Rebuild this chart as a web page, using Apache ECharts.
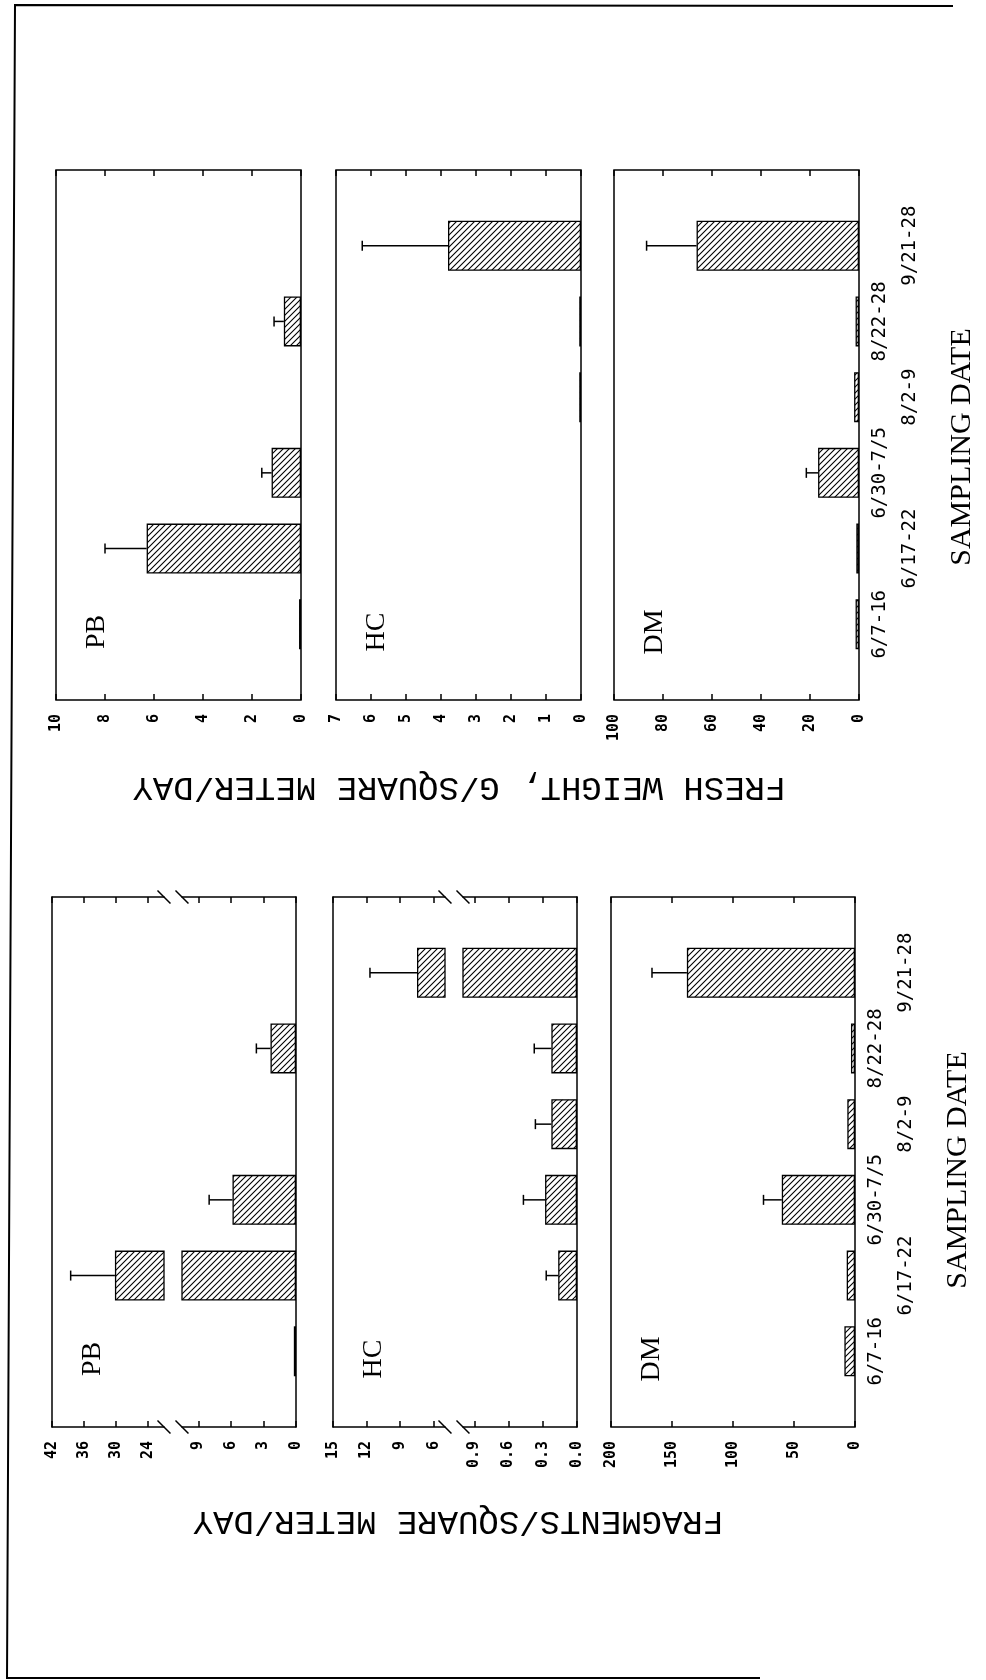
<!DOCTYPE html>
<html><head><meta charset="utf-8">
<script src="https://cdn.jsdelivr.net/npm/echarts@6/dist/echarts.min.js"></script>
<style>html,body{margin:0;padding:0;background:#fff}#c{width:986px;height:1680px}</style>
</head><body><div id="c"></div>
<script>
// ---------- DATA ----------
const categories = ['6/7-16', '6/17-22', '6/30-7/5', '8/2-9', '8/22-28', '9/21-28'];

// Fresh weight, g / square meter / day (mean, and upper error magnitude)
const freshPB    = [0.08, 6.3, 1.2, 0, 0.7, 0];
const freshPBErr = [0, 1.7, 0.4, 0, 0.4, 0];
const freshHC    = [0, 0, 0, 0.05, 0.05, 3.8];
const freshHCErr = [0, 0, 0, 0, 0, 2.45];
const freshDM    = [1.4, 1.1, 16.7, 2.0, 1.4, 66.3];
const freshDMErr = [0, 0, 4.8, 0, 0, 20.4];

// Fragments / square meter / day
const fragPB    = [0.2, 30.2, 5.85, 0, 2.35, 0];
const fragPBErr = [0, 8.3, 2.15, 0, 1.3, 0];
const fragHC    = [0, 0.165, 0.28, 0.225, 0.225, 7.5];
const fragHCErr = [0, 0.105, 0.19, 0.14, 0.15, 4.2];
const fragDM    = [8.7, 6.8, 60, 6.3, 3.3, 137.8];
const fragDMErr = [0, 0, 15, 0, 0, 28.6];

// Tick labels
const freshPBTicks = [0, 2, 4, 6, 8, 10];
const freshHCTicks = [0, 1, 2, 3, 4, 5, 6, 7];
const freshDMTicks = [0, 20, 40, 60, 80, 100];
const fragPBTicksLow  = [0, 3, 6, 9];
const fragPBTicksHigh = [24, 30, 36, 42];
const fragHCTicksLow  = [0, 0.3, 0.6, 0.9];
const fragHCTicksHigh = [6, 9, 12, 15];
const fragDMTicks = [0, 50, 100, 150, 200];

// Broken-axis segment ranges
const fragPBLowRange = [0, 10.5], fragPBHighRange = [21, 42];
const fragHCLowRange = [0, 1.0],  fragHCHighRange = [5, 15];

// Texts
const panelNames = ['PB', 'HC', 'DM'];
const freshTitle = 'FRESH WEIGHT, G/SQUARE METER/DAY';
const fragTitle = 'FRAGMENTS/SQUARE METER/DAY';
const dateTitle = 'SAMPLING DATE';

// ---------- LAYOUT ----------
const FRESH = { top: 170, h: 530, x: [56, 336, 614], w: 245 };
const FRAG  = { top: 897, h: 530, x: [52, 333, 611], w: 244 };
const LOW_W = 114, HIGH_W = 112;

function makeHatch() {
  const s = 6, c = document.createElement('canvas');
  c.width = c.height = s;
  const g = c.getContext('2d');
  g.fillStyle = '#fff'; g.fillRect(0, 0, s, s);
  g.strokeStyle = '#000'; g.lineWidth = 1.1;
  g.beginPath();
  g.moveTo(0, s); g.lineTo(s, 0);
  g.moveTo(-1, 1); g.lineTo(1, -1);
  g.moveTo(s - 1, s + 1); g.lineTo(s + 1, s - 1);
  g.stroke();
  return c;
}
const HATCH = { image: makeHatch(), repeat: 'repeat' };
const LINE = { color: '#000', width: 1.5 };
const axisCats = [''].concat(categories, ['']);

const option = { animation: false, backgroundColor: '#fff', grid: [], xAxis: [], yAxis: [], series: [], graphic: [] };

function addGrid(left, top, width, height, border) {
  option.grid.push({ left, top, width, height, show: border, borderColor: '#000', borderWidth: 1.5,
    backgroundColor: 'rgba(0,0,0,0)', containLabel: false, outerBoundsMode: 'none' });
  return option.grid.length - 1;
}
function addValueAxes(gi, range, ticks, fmt, showLine) {
  const base = { gridIndex: gi, type: 'value', inverse: true, min: range[0], max: range[1],
    splitLine: { show: false }, axisLine: { show: showLine, lineStyle: LINE },
    axisTick: { show: true, inside: true, length: 6, customValues: ticks, lineStyle: LINE } };
  option.xAxis.push(Object.assign({}, base, { position: 'bottom',
    axisLabel: { show: true, customValues: ticks, rotate: 90, margin: 14, formatter: fmt,
      fontFamily: 'DejaVu Sans Mono', fontSize: 15, fontWeight: 'bold', color: '#000' } }));
  const xi = option.xAxis.length - 1;
  option.xAxis.push(Object.assign({}, base, { position: 'top', axisLabel: { show: false } }));
  return xi;
}
function addCatAxis(gi, position, showLine, labelFilter, margin) {
  option.yAxis.push({ gridIndex: gi, type: 'category', data: axisCats, boundaryGap: false, position,
    axisLine: { show: showLine, lineStyle: LINE }, axisTick: { show: false }, splitLine: { show: false },
    axisLabel: labelFilter ? { show: true, interval: labelFilter, rotate: 90, margin: margin,
      fontFamily: 'DejaVu Sans Mono', fontSize: 19, color: '#000' } : { show: false } });
  return option.yAxis.length - 1;
}
function renderErr(params, api) {
  const v = api.value(0), c = api.value(1), e = api.value(2);
  const p0 = api.coord([v, c]), p1 = api.coord([v + e, c]);
  const cap = 5;
  return { type: 'group', children: [
    { type: 'line', shape: { x1: p0[0], y1: p0[1], x2: p1[0], y2: p1[1] }, style: { stroke: '#000', lineWidth: 1.5 } },
    { type: 'line', shape: { x1: p1[0], y1: p1[1] - cap, x2: p1[0], y2: p1[1] + cap }, style: { stroke: '#000', lineWidth: 1.5 } }
  ] };
}
function addBars(xi, yi, values, keep) {
  option.series.push({ type: 'bar', xAxisIndex: xi, yAxisIndex: yi, barWidth: '66%', clip: true, silent: true,
    itemStyle: { color: HATCH, borderColor: '#000', borderWidth: 1.3 },
    data: values.map((v, i) => [v, i + 1]).filter(d => d[0] > 0 && keep(d[0])) });
}
function addErrs(xi, yi, values, errs, keep) {
  option.series.push({ type: 'custom', xAxisIndex: xi, yAxisIndex: yi, silent: true, clip: true,
    encode: { x: 0, y: 1 }, renderItem: renderErr,
    data: values.map((v, i) => [v, i + 1, errs[i]]).filter(d => d[2] > 0 && keep(d[0], d[2])) });
}
function panelLabel(x0, bottom, name) {
  option.graphic.push({ type: 'text', x: x0 + 41, y: bottom - 68, rotation: Math.PI / 2,
    style: { text: name, fontFamily: 'Liberation Serif', fontSize: 28, fill: '#000',
      align: 'center', verticalAlign: 'middle', textAlign: 'center', textVerticalAlign: 'middle' } });
}
const fmtInt = v => String(v);
const fmt1 = v => v.toFixed(1);

function simplePanel(G, col, ticks, fmt, values, errs, name, showCats) {
  const left = G.x[col];
  const gi = addGrid(left, G.top, G.w, G.h, true);
  const xi = addValueAxes(gi, [ticks[0], ticks[ticks.length - 1]], ticks, fmt, false);
  const yi = addCatAxis(gi, 'right', false, showCats ? (i => i % 2 === 1 && i < 7) : null, 12);
  if (showCats) addCatAxis(gi, 'right', false, (i => i % 2 === 0 && i > 0 && i < 7), 42);
  addBars(xi, yi, values, () => true);
  addErrs(xi, yi, values, errs, () => true);
  panelLabel(left, G.top + G.h, name);
}
function brokenPanel(G, col, lowRange, lowTicks, lowFmt, highRange, highTicks, highFmt, values, errs, name) {
  const x0 = G.x[col], top = G.top, bottom = G.top + G.h;
  const lowLeft = x0 + G.w - LOW_W, highRight = x0 + HIGH_W;
  const g1 = addGrid(lowLeft, top, LOW_W, G.h, false);
  const x1 = addValueAxes(g1, lowRange, lowTicks, lowFmt, true);
  const y1 = addCatAxis(g1, 'right', true, null);
  addBars(x1, y1, values, () => true);
  addErrs(x1, y1, values, errs, (v, e) => v + e <= lowRange[1]);
  const g2 = addGrid(x0, top, HIGH_W, G.h, false);
  const x2 = addValueAxes(g2, highRange, highTicks, highFmt, true);
  const y2 = addCatAxis(g2, 'left', true, null);
  addBars(x2, y2, values, v => v > highRange[0]);
  addErrs(x2, y2, values, errs, v => v >= highRange[0]);
  [top, bottom].forEach(yy => [highRight, lowLeft].forEach(xx => option.graphic.push({
    type: 'line', shape: { x1: xx - 6.5, y1: yy - 6.5, x2: xx + 6.5, y2: yy + 6.5 },
    style: { stroke: '#000', lineWidth: 1.5 } })));
  panelLabel(x0, bottom, name);
}

// Fresh weight group (upper half of the page)
simplePanel(FRESH, 0, freshPBTicks, fmtInt, freshPB, freshPBErr, panelNames[0], false);
simplePanel(FRESH, 1, freshHCTicks, fmtInt, freshHC, freshHCErr, panelNames[1], false);
simplePanel(FRESH, 2, freshDMTicks, fmtInt, freshDM, freshDMErr, panelNames[2], true);
// Fragments group (lower half)
brokenPanel(FRAG, 0, fragPBLowRange, fragPBTicksLow, fmtInt, fragPBHighRange, fragPBTicksHigh, fmtInt, fragPB, fragPBErr, panelNames[0]);
brokenPanel(FRAG, 1, fragHCLowRange, fragHCTicksLow, fmt1, fragHCHighRange, fragHCTicksHigh, fmtInt, fragHC, fragHCErr, panelNames[1]);
simplePanel(FRAG, 2, fragDMTicks, fmtInt, fragDM, fragDMErr, panelNames[2], true);

function bigText(text, x, y, rot, family, size, weight, sy) {
  option.graphic.push({ type: 'text', x, y, rotation: rot, scaleY: sy || 1,
    style: { text, fontFamily: family, fontSize: size, fontWeight: weight || 'normal', fill: '#000',
      align: 'center', verticalAlign: 'middle', textAlign: 'center', textVerticalAlign: 'middle' } });
}
bigText(freshTitle, 459, 787, Math.PI, 'Liberation Mono', 34, 'normal', 1);
bigText(fragTitle, 458, 1521, Math.PI, 'Liberation Mono', 34, 'normal', 1);
bigText(dateTitle, 962, 447, Math.PI / 2, 'Liberation Serif', 30);
bigText(dateTitle, 958, 1170, Math.PI / 2, 'Liberation Serif', 30);

// page frame
option.graphic.push({ type: 'polyline', shape: { points: [[953, 6], [15, 5], [7, 1678], [760, 1678]] },
  style: { stroke: '#000', lineWidth: 2, fill: null } });

const chart = echarts.init(document.getElementById('c'), null, { renderer: 'canvas' });
chart.setOption(option);
</script>
</body></html>
